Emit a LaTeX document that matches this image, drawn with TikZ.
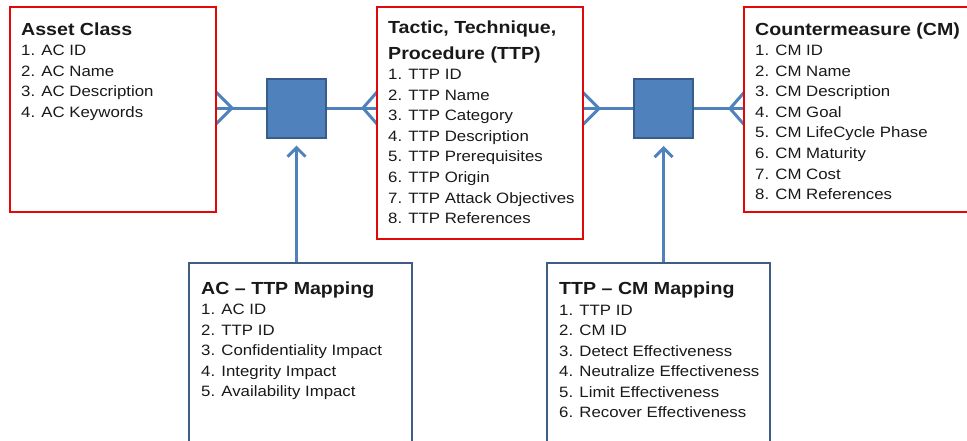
\documentclass[tikz,border=0pt]{standalone}
\usepackage{fontspec}
\setmainfont{Liberation Sans}[FakeStretch=1.12]
\usetikzlibrary{arrows.meta,backgrounds}
\definecolor{redb}{RGB}{226,8,8}
\definecolor{lineblue}{RGB}{79,129,189}
\definecolor{hubedge}{RGB}{56,93,138}
\definecolor{mapedge}{RGB}{62,92,132}
\definecolor{txt}{RGB}{25,25,25}
\tikzset{
  ent/.style={draw=redb, line width=2.5pt, fill=white, inner sep=0pt, outer sep=0pt, anchor=north west},
  mapbox/.style={draw=mapedge, line width=2pt, fill=white, inner sep=0pt, outer sep=0pt, anchor=north west},
  hub/.style={draw=hubedge, fill=lineblue, line width=2pt, minimum size=59pt, inner sep=0pt, outer sep=0pt},
  conn/.style={draw=lineblue, line width=3pt},
  uparrow/.style={conn, -{Straight Barb[length=9pt,width=18pt,line width=3pt]}, shorten >=8pt},
  ttl/.style={font=\fontsize{17.5}{20}\selectfont\bfseries, text=txt, anchor=base west, inner sep=0pt},
  itm/.style={font=\fontsize{15}{18}\selectfont, text=txt, anchor=base west, inner sep=0pt}
}
\begin{document}
\begin{tikzpicture}[x=1pt,y=-1pt]
\useasboundingbox (0,0) rectangle (967,440);
% entity boxes
\node[ent, minimum width=206pt, minimum height=205pt] (ac) at (10,7) {};
\node[ent, minimum width=206pt, minimum height=232pt] (ttp) at (377,7) {};
\node[ent, minimum width=231pt, minimum height=205pt] (cm) at (744,7) {};
% mapping boxes
\node[mapbox, minimum width=223pt, minimum height=190pt] (acm) at (189,263) {};
\node[mapbox, minimum width=223pt, minimum height=190pt] (tcm) at (547,263) {};
% hubs
\node[hub] (sq1) at (296.5,108) {};
\node[hub] (sq2) at (663.5,108.5) {};
% connectors
\begin{scope}[on background layer]
\coordinate (cf1) at ([xshift=16pt]ac.east |- sq1);
\coordinate (cf2) at ([xshift=-14pt]ttp.west |- sq1);
\coordinate (cf3) at ([xshift=16pt]ttp.east |- sq2);
\coordinate (cf4) at ([xshift=-14pt]cm.west |- sq2);
\draw[conn] (ac.east |- sq1) -- (sq1.west);
\draw[conn] (sq1.east) -- (ttp.west |- sq1);
\draw[conn] (ttp.east |- sq2) -- (sq2.west);
\draw[conn] (sq2.east) -- (cm.west |- sq2);
\draw[conn] ([yshift=16pt]ac.east |- sq1) -- (cf1) -- ([yshift=-16pt]ac.east |- sq1);
\draw[conn] ([yshift=16pt]ttp.west |- sq1) -- (cf2) -- ([yshift=-16pt]ttp.west |- sq1);
\draw[conn] ([yshift=16pt]ttp.east |- sq2) -- (cf3) -- ([yshift=-16pt]ttp.east |- sq2);
\draw[conn] ([yshift=16pt]cm.west |- sq2) -- (cf4) -- ([yshift=-16pt]cm.west |- sq2);
\draw[uparrow] (acm.north -| sq1) -- (sq1.south);
\draw[uparrow] (tcm.north -| sq2) -- (sq2.south);
\end{scope}
% texts
\node[ttl] (ac-t) at (21,35) {Asset Class};
\foreach \t [count=\i] in {AC ID, AC Name, AC Description, AC Keywords}
  \node[itm] (ac-\i) at (21,{55.5+20.6*(\i-1)}) {\i. \t};
\node[ttl] (ttp-t1) at (388,33) {Tactic, Technique,};
\node[ttl] (ttp-t2) at (388,59) {Procedure (TTP)};
\foreach \t [count=\i] in {TTP ID, TTP Name, TTP Category, TTP Description, TTP Prerequisites, TTP Origin, TTP Attack Objectives, TTP References}
  \node[itm] (ttp-\i) at (388,{79.5+20.6*(\i-1)}) {\i. \t};
\node[ttl] (cm-t) at (755,35) {Countermeasure (CM)};
\foreach \t [count=\i] in {CM ID, CM Name, CM Description, CM Goal, CM LifeCycle Phase, CM Maturity, CM Cost, CM References}
  \node[itm] (cm-\i) at (755,{55.5+20.6*(\i-1)}) {\i. \t};
\node[ttl] (acm-t) at (201,294) {AC – TTP Mapping};
\foreach \t [count=\i] in {AC ID, TTP ID, Confidentiality Impact, Integrity Impact, Availability Impact}
  \node[itm] (acm-\i) at (201,{314.5+20.6*(\i-1)}) {\i. \t};
\node[ttl] (tcm-t) at (559,294) {TTP – CM Mapping};
\foreach \t [count=\i] in {TTP ID, CM ID, Detect Effectiveness, Neutralize Effectiveness, Limit Effectiveness, Recover Effectiveness}
  \node[itm] (tcm-\i) at (559,{315.5+20.4*(\i-1)}) {\i. \t};
\end{tikzpicture}
\end{document}
